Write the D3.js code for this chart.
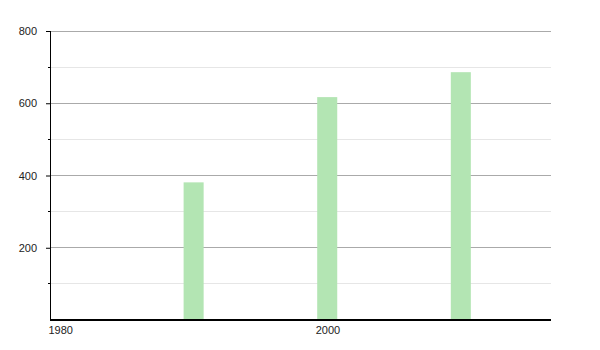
<!DOCTYPE html>
<html><head><meta charset="utf-8">
<script src="https://cdn.jsdelivr.net/npm/d3@7"></script>
<style>body{margin:0;background:#fff}svg{display:block}text{font-family:"Liberation Sans",Arial,sans-serif;font-size:11px;fill:#222}</style>
</head><body><svg id="c" width="600" height="350"></svg>
<script>
const years = [1990, 2000, 2010];
const values = [381, 617, 686];
const xTicks = [1980, 2000];
const yMajor = [200, 400, 600, 800];
const yMinor = [100, 300, 500, 700];

const svg = d3.select("#c");
const L = 50, R = 551, T = 31, B = 320;
const x = d3.scaleLinear().domain([1980, 2017.5]).range([L, R]);
const y = d3.scaleLinear().domain([0, 800]).range([B, T]);

svg.selectAll(".minor").data(yMinor).join("line")
  .attr("x1", L).attr("x2", R).attr("y1", d => y(d)).attr("y2", d => y(d))
  .attr("stroke", "#e6e6e6").attr("stroke-width", 1).attr("shape-rendering", "crispEdges");
svg.selectAll(".major").data(yMajor).join("line")
  .attr("x1", L).attr("x2", R).attr("y1", d => y(d)).attr("y2", d => y(d))
  .attr("stroke", "#aaaaaa").attr("stroke-width", 1).attr("shape-rendering", "crispEdges");

const bw = x(1991.5) - x(1990);
svg.selectAll(".bar").data(years).join("rect")
  .attr("x", d => x(d)).attr("width", bw)
  .attr("y", (d, i) => y(values[i])).attr("height", (d, i) => B - y(values[i]))
  .attr("fill", "#b3e5b3");

// y axis
const yAxis = d3.axisLeft(y).tickValues(yMajor).tickSize(4).tickPadding(9).tickFormat(d3.format("d"));
const gy = svg.append("g").attr("transform", `translate(${L},0)`).call(yAxis);
gy.select(".domain").remove();
gy.selectAll(".tick line").attr("stroke", "#000");
gy.selectAll(".tick text").style("font-size", "11px").attr("fill", "#222");
svg.selectAll(".mtick").data(yMinor).join("line")
  .attr("x1", L - 2).attr("x2", L).attr("y1", d => y(d)).attr("y2", d => y(d))
  .attr("stroke", "#000").attr("shape-rendering", "crispEdges");
svg.append("line").attr("x1", L).attr("x2", L).attr("y1", T).attr("y2", B + 0.5)
  .attr("stroke", "#000").attr("shape-rendering", "crispEdges");

// x axis
const xAxis = d3.axisBottom(x).tickValues(xTicks).tickSize(0).tickPadding(6).tickFormat(d3.format("d"));
const gx = svg.append("g").attr("transform", `translate(0,${B})`).call(xAxis);
gx.select(".domain").remove();
gx.selectAll(".tick text").attr("text-anchor", "start").attr("dx", -2).style("font-size", "11px").attr("fill", "#222");
svg.append("line").attr("x1", L).attr("x2", R).attr("y1", B).attr("y2", B)
  .attr("stroke", "#000").attr("stroke-width", 1.5).attr("shape-rendering", "crispEdges");
</script></body></html>
